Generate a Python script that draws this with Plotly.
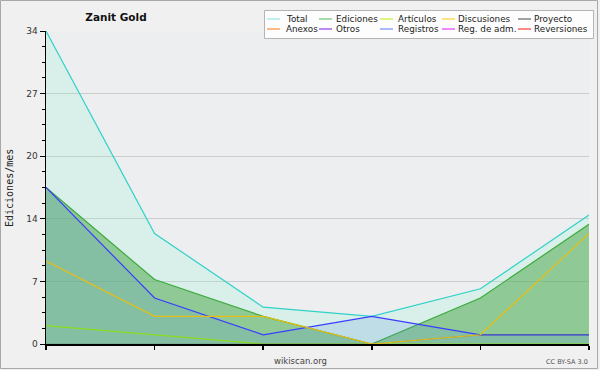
import plotly.graph_objects as go

# ---- data ----
meses = [1, 2, 3, 4, 5, 6]
total = [34, 12, 4, 3, 6, 14]
ediciones = [17, 7, 3, 0, 5, 13]
articulos = [2, 1, 0, 0, 0, 0]
discusiones = [9, 3, 3, 0, 1, 12]
registros = [17, 5, 1, 3, 1, 1]
proyecto = [0, 0, 0, 0, 1, 1]

y_tickvals = [0, 6.8, 13.6, 20.4, 27.2, 34]
y_ticktext = ["0", "7", "14", "20", "27", "34"]

legend_names = ["Total", "Ediciones", "Artículos", "Discusiones", "Proyecto",
                "Anexos", "Otros", "Registros", "Reg. de adm.", "Reversiones"]
legend_colors = ["#96e6e6", "#6ec86e", "#c8f032", "#ffd232", "#646464",
                 "#ff8c3c", "#963ce6", "#788cff", "#e63cff", "#ff3c3c"]

title = "Zanit Gold"
y_title = "Ediciones/mes"

# ---- geometry (pixels) ----
W, H = 600, 370
L, R, T, B = 46, 589, 31, 344
def px(x):
    return (x - L) / (R - L)
def py(y):
    return (B - y) / (B - T)

FONT = "DejaVu Sans"

fig = go.Figure()

fig.add_trace(go.Scatter(x=meses, y=total, mode="lines", fill="tozeroy",
                         fillcolor="rgba(133,244,210,0.2)",
                         line=dict(color="#30d2c8", width=1.2), showlegend=False))
fig.add_trace(go.Scatter(x=meses, y=ediciones, mode="lines", fill="tozeroy",
                         fillcolor="rgba(69,166,66,0.5)",
                         line=dict(color="#3caa3c", width=1.2), showlegend=False))
fig.add_trace(go.Scatter(x=meses, y=registros, mode="lines", fill="tozeroy",
                         fillcolor="rgba(92,150,214,0.2)",
                         line=dict(color="#3a3cff", width=1.2), showlegend=False))
fig.add_trace(go.Scatter(x=meses, y=articulos, mode="lines",
                         line=dict(color="#8cdc1e", width=1.2), showlegend=False))
fig.add_trace(go.Scatter(x=meses, y=proyecto, mode="lines",
                         line=dict(color="rgba(85,85,85,0.35)", width=1.2), showlegend=False))
fig.add_trace(go.Scatter(x=meses, y=discusiones, mode="lines",
                         line=dict(color="#e6be14", width=1.2), showlegend=False))

shapes = []
annotations = []

# outer border
shapes.append(dict(type="rect", xref="paper", yref="paper",
                   x0=px(0.5), x1=px(597.5), y0=py(368.5), y1=py(0.5),
                   line=dict(color="#a8a8a8", width=1), fillcolor="rgba(0,0,0,0)",
                   layer="above"))

# custom legend
leg_x0, leg_x1, leg_y0, leg_y1 = 264.5, 593.5, 10.5, 38.5
shapes.append(dict(type="rect", xref="paper", yref="paper",
                   x0=px(leg_x0), x1=px(leg_x1), y0=py(leg_y1), y1=py(leg_y0),
                   line=dict(color="#b4b4b4", width=1), fillcolor="#fdfdfd",
                   layer="above"))
col_line_x = [267, 319, 380, 442, 518]
col_text_x = [285, 335, 397, 457, 533]
row_y = [19, 29]
for i, (name, col) in enumerate(zip(legend_names, legend_colors)):
    r, c = divmod(i, 5)
    yy = row_y[r]
    shapes.append(dict(type="line", xref="paper", yref="paper",
                       x0=px(col_line_x[c]), x1=px(col_line_x[c] + 13),
                       y0=py(yy), y1=py(yy), line=dict(color=col, width=1.2),
                       layer="above"))
    annotations.append(dict(text=name, xref="paper", yref="paper",
                            x=px(col_text_x[c] - 1), y=py(yy), xanchor="left",
                            yanchor="middle", showarrow=False,
                            font=dict(family=FONT, size=8.8, color="#222")))

annotations.append(dict(text="wikiscan.org", xref="paper", yref="paper",
                        x=px(300), y=py(361), xanchor="center", yanchor="middle",
                        showarrow=False, font=dict(family=FONT, size=8.5, color="#444")))
annotations.append(dict(text="CC BY-SA 3.0", xref="paper", yref="paper",
                        x=px(590), y=py(362), xanchor="right", yanchor="middle",
                        showarrow=False, font=dict(family=FONT, size=6.5, color="#555")))
annotations.append(dict(text=y_title, xref="paper", yref="paper",
                        x=px(9), y=py(188), xanchor="center", yanchor="middle",
                        textangle=-90, showarrow=False,
                        font=dict(family="DejaVu Sans Mono", size=10, color="#222")))

fig.update_layout(
    width=W, height=H,
    margin=dict(l=L, r=W - R, t=T, b=H - B, pad=0),
    paper_bgcolor="#f0f0f0",
    plot_bgcolor="#edeef0",
    title=dict(text="<b>" + title + "</b>", x=116 / W, xanchor="center",
               y=1 - 17 / H, yanchor="middle", xref="container", yref="container",
               font=dict(family=FONT, size=10.5, color="#111")),
    font=dict(family=FONT, size=9, color="#333"),
    shapes=shapes,
    annotations=annotations,
    showlegend=False,
)
fig.update_xaxes(range=[meses[0], meses[-1]], tickvals=meses, showticklabels=False,
                 ticks="outside", ticklen=4, tickcolor="#000", tickwidth=1.6,
                 showgrid=False,
                 showline=True, linecolor="#000", linewidth=1.5, zeroline=False,
                 fixedrange=True)
fig.update_yaxes(range=[0, 34], tickvals=y_tickvals, ticktext=y_ticktext,
                 ticks="outside", ticklen=5, tickcolor="#000",
                 showgrid=True, gridcolor="#cccccc", gridwidth=1,
                 showline=True, linecolor="#000", linewidth=1.5, zeroline=False,
                 tickfont=dict(family=FONT, size=9, color="#333"),
                 minor=dict(tickvals=[v * 1.7 for v in range(1, 20) if v % 4 != 0],
                            ticks="outside", ticklen=3, tickcolor="#000", showgrid=False),
                 fixedrange=True)

fig.write_html("out.html", config={"displayModeBar": False, "staticPlot": True},
               post_script="document.body.style.margin='0';document.body.style.overflow='hidden';")
